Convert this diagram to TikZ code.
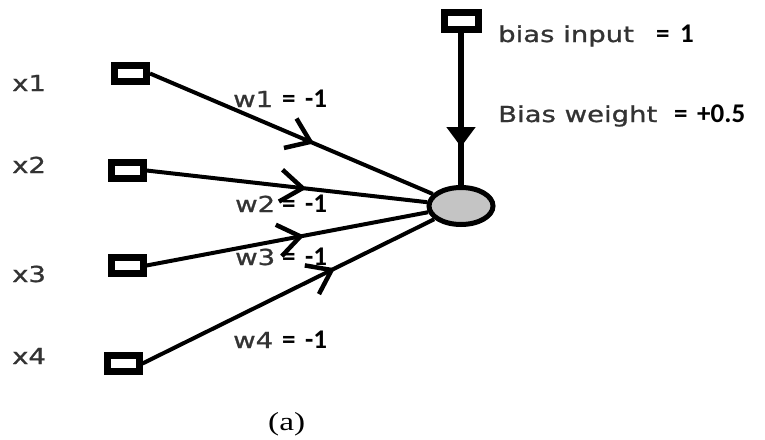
\documentclass[tikz,border=0pt]{standalone}
\usepackage{graphicx}
\usepackage{fontspec}
\setmainfont{DejaVu Sans}
\newfontfamily\wfont[FakeBold=0.9]{DejaVu Sans}
\newfontfamily\bfont{Carlito}
\newfontfamily\capfont{Liberation Serif}
\usetikzlibrary{arrows.meta,decorations.markings,shapes.geometric}
\definecolor{txtgray}{HTML}{333333}
\definecolor{cellgray}{HTML}{C4C4C4}
\newcommand{\graytxt}[1]{\scalebox{1.25}[1]{\fontsize{22}{22}\selectfont\wfont\color{txtgray}#1}}
\newcommand{\boldtxt}[1]{{\fontsize{27}{27}\selectfont\bfont\bfseries #1}}
\tikzset{
  inbox/.style={draw, line width=7pt, minimum width=32pt, minimum height=16pt, inner sep=0pt, fill=white},
  neuron/.style={ellipse, draw, line width=5pt, fill=cellgray, minimum width=64pt, minimum height=37pt, inner sep=0pt},
  wire/.style={line width=4pt},
  midarrow/.style={postaction={decorate}, decoration={markings, mark=at position #1 with {\arrow{Straight Barb[length=22pt,width=32pt,line width=4.5pt]}}}},
  biasarrow/.style={postaction={decorate}, decoration={markings, mark=at position #1 with {\arrow{Triangle[length=20pt,width=28pt]}}}},
  lbl/.style={anchor=base west, inner sep=0pt}
}
\begin{document}
\begin{tikzpicture}[x=1pt,y=-1pt]
\useasboundingbox (0,0) rectangle (765,439);
% nodes
\node[neuron] (n) at (461,206) {};
\node[inbox] (s1) at (130.5,73.5) {};
\node[inbox] (s2) at (127,170.5) {};
\node[inbox] (s3) at (127,265.5) {};
\node[inbox] (s4) at (123,363.5) {};
\node[inbox, minimum width=34pt, minimum height=17pt] (sb) at (461,21) {};
% connectors
\draw[wire, midarrow=0.58] (s1.east) -- (n);
\draw[wire, midarrow=0.57] (s2.east) -- (n);
\draw[wire, midarrow=0.56] (s3.east) -- (n);
\draw[wire, midarrow=0.66] (s4.east) -- (n);
\draw[line width=6pt, biasarrow=0.75] (sb.south) -- (n.north);
% input labels
\node[lbl] (lx1) at (12,91) {\graytxt{x1}};
\node[lbl] (lx2) at (12,173) {\graytxt{x2}};
\node[lbl] (lx3) at (12,282) {\graytxt{x3}};
\node[lbl] (lx4) at (12,364) {\graytxt{x4}};
% weight labels
\node[lbl] (lw1) at (233,107) {\graytxt{w1}};
\node[lbl] (ew1) at (282,107) {\boldtxt{=}};
\node[lbl] (vw1) at (305,107) {\boldtxt{-1}};
\node[lbl] (lw2) at (235,212) {\graytxt{w2}};
\node[lbl] (ew2) at (282,212) {\boldtxt{=}};
\node[lbl] (vw2) at (305,212) {\boldtxt{-1}};
\node[lbl] (lw3) at (235,265) {\graytxt{w3}};
\node[lbl] (ew3) at (282,265) {\boldtxt{=}};
\node[lbl] (vw3) at (305,265) {\boldtxt{-1}};
\node[lbl] (lw4) at (233,348) {\graytxt{w4}};
\node[lbl] (ew4) at (282,348) {\boldtxt{=}};
\node[lbl] (vw4) at (305,348) {\boldtxt{-1}};
% bias labels
\node[lbl] (lbi) at (498,42) {\graytxt{bias input}};
\node[lbl] (ebi) at (656,42) {\boldtxt{=}};
\node[lbl] (vbi) at (680,42) {\boldtxt{1}};
\node[lbl] (lbw) at (498,122) {\graytxt{Bias weight}};
\node[lbl] (ebw) at (674,122) {\boldtxt{=}};
\node[lbl] (vbw) at (697,122) {\boldtxt{+0.5}};
% caption
\node[lbl] (cap) at (268,430) {\scalebox{1.28}[1]{\fontsize{26}{26}\selectfont\capfont (a)}};
\end{tikzpicture}
\end{document}
